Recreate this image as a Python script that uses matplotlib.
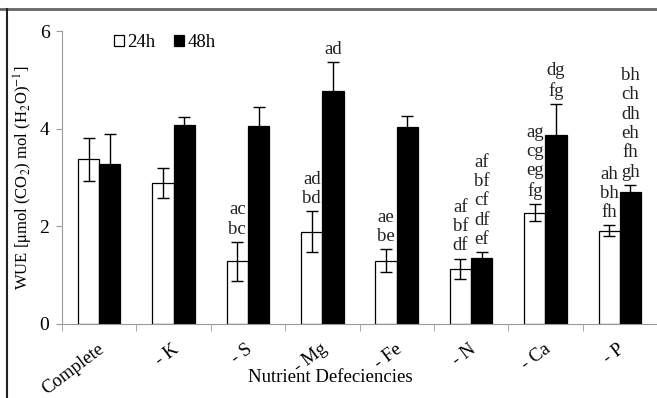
import numpy as np
import matplotlib
matplotlib.use("Agg")
import matplotlib.pyplot as plt
from matplotlib.lines import Line2D

plt.rcParams['font.family'] = ['Liberation Serif', 'DejaVu Serif']
plt.rcParams['mathtext.fontset'] = 'stix'

# data
categories = ["Complete", "- K", "- S", "- Mg", "- Fe", "- N", "- Ca", "- P"]
wue_24h = [3.37, 2.89, 1.28, 1.89, 1.30, 1.13, 2.28, 1.91]
err_24h = [0.44, 0.31, 0.40, 0.42, 0.23, 0.21, 0.18, 0.11]
wue_48h = [3.28, 4.08, 4.06, 4.77, 4.03, 1.36, 3.88, 2.71]
err_48h = [0.62, 0.16, 0.39, 0.60, 0.22, 0.11, 0.63, 0.14]
letters_24h = ["", "", "ac\nbc", "ad\nbd", "ae\nbe", "af\nbf\ndf",
               "ag\ncg\neg\nfg", "ah\nbh\nfh"]
letters_48h = ["", "", "", "ad", "", "af\nbf\ncf\ndf\nef",
               "dg\nfg", "bh\nch\ndh\neh\nfh\ngh"]

fig = plt.figure(figsize=(6.57, 3.98), dpi=100)
ax = fig.add_axes([62 / 657, 1 - 324 / 398, 595 / 657, (324 - 31) / 398])

x = np.arange(len(categories))
w = 0.285
ekw = dict(ecolor='black', elinewidth=1, capsize=4, capthick=1)
ax.bar(x - w / 2, wue_24h, w, yerr=err_24h, color='white', edgecolor='black',
       linewidth=0.9, error_kw=ekw, label='24h', zorder=2)
ax.bar(x + w / 2, wue_48h, w, yerr=err_48h, color='black', edgecolor='black',
       linewidth=0.9, error_kw=ekw, label='48h', zorder=2)

for i in range(len(categories)):
    for xo, v, e, lab in [(x[i] - w / 2, wue_24h[i], err_24h[i], letters_24h[i]),
                          (x[i] + w / 2, wue_48h[i], err_48h[i], letters_48h[i])]:
        if lab:
            ax.annotate(lab, (xo, v + e), xytext=(0, 3), textcoords='offset points',
                        ha='center', va='bottom', fontsize=13.5, color='#222222',
                        linespacing=1.18)

ax.set_xlim(-0.5, len(categories) - 0.5)
ax.set_ylim(0, 6)
ax.set_yticks([0, 2, 4, 6])
ax.set_xticks(x - 0.03)
ax.set_xticklabels(categories, rotation=37, ha='right', va='top',
                   rotation_mode='anchor', fontsize=13.5)
ax.set_xticks(np.arange(-0.5, len(categories)), minor=True)
ax.tick_params(axis='x', which='major', length=0, pad=12)
ax.tick_params(axis='x', which='minor', length=5, color='#999999', direction='out')
ax.tick_params(axis='y', length=4, color='#999999', labelsize=14, pad=5)
for s in ['top', 'right']:
    ax.spines[s].set_visible(False)
for s in ['left', 'bottom']:
    ax.spines[s].set_color('#999999')

ax.set_xlabel("Nutrient Defeciencies", fontsize=13.5, va='center')
ax.xaxis.set_label_coords((330 - 62) / 595, -(378 - 324) / 293)
ax.set_ylabel(r"WUE [$\mathrm{\mu}$mol (CO$_2$) mol (H$_2$O)$^{-1}$]",
              fontsize=12, labelpad=3)

ax.legend(loc='upper left', bbox_to_anchor=(0.075, 1.015), ncol=2, frameon=False,
          fontsize=13.5, handlelength=0.55, handleheight=0.6, handletextpad=0.15,
          columnspacing=1.0, borderaxespad=0)

# picture frame
fig.add_artist(Line2D([0, 1], [1 - 8.5 / 398] * 2, color='#666666', lw=2,
                      transform=fig.transFigure))
fig.add_artist(Line2D([6.5 / 657] * 2, [0, 1 - 8.5 / 398], color='#222222', lw=1.5,
                      transform=fig.transFigure))

fig.savefig("out.png", dpi=100)
